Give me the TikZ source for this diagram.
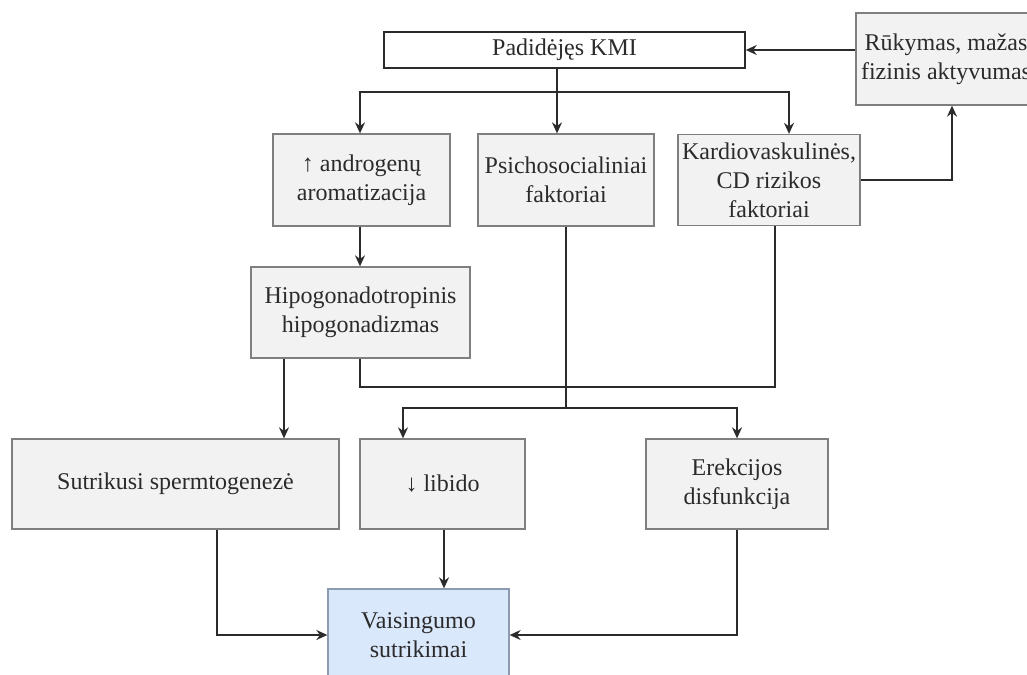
\documentclass[tikz,border=0pt]{standalone}
\usepackage{fontspec}
\setmainfont{Liberation Serif}
\usetikzlibrary{arrows.meta}
\definecolor{boxgray}{HTML}{F2F2F2}
\definecolor{edgegray}{HTML}{7F7F7F}
\definecolor{paleblue}{HTML}{DAE8FC}
\definecolor{blueedge}{HTML}{8C9BB0}
\definecolor{ink}{HTML}{2B2B2B}

\begin{document}
\begin{tikzpicture}[x=1pt,y=-1pt,
  every node/.style={font=\fontsize{24}{29}\selectfont,text=ink,align=center,inner sep=0pt},
  box/.style={draw=edgegray,fill=boxgray,line width=1.3pt},
  conn/.style={draw=ink,line width=1.5pt},
  arr/.style={conn,-{Stealth[length=11pt,width=10pt]}}]
\useasboundingbox (0,0) rectangle (1027,674);
\clip (0,0) rectangle (1027,674);

\node [draw=ink,fill=white,line width=1.5pt,minimum width=361pt,minimum height=36pt] (kmi) at (564.5,50) {Padidėjęs KMI};
\node [box,minimum width=180pt,minimum height=92pt] (ruk) at (946,59) {Rūkymas, mažas\\fizinis aktyvumas};
\node [box,minimum width=177pt,minimum height=92pt] (andr) at (361.5,180) {↑ androgenų\\aromatizacija};
\node [box,minimum width=176pt,minimum height=92pt] (psy) at (566,180) {Psichosocialiniai\\faktoriai};
\node [box,minimum width=182pt,minimum height=91pt] (kar) at (769,180) {Kardiovaskulinės,\\CD rizikos\\faktoriai};
\node [box,minimum width=219pt,minimum height=91pt] (hipo) at (360.5,312.5) {Hipogonadotropinis\\hipogonadizmas};
\node [box,minimum width=327pt,minimum height=90pt] (spe) at (175.5,484) {Sutrikusi spermtogenezė};
\node [box,minimum width=165pt,minimum height=90pt] (lib) at (442.5,484) {↓ libido};
\node [box,minimum width=182pt,minimum height=90pt] (ere) at (737,484) {Erekcijos\\disfunkcija};
\node [draw=blueedge,fill=paleblue,line width=1.3pt,minimum width=181pt,minimum height=92pt] (vai) at (418.5,635) {Vaisingumo\\sutrikimai};

\coordinate (split) at (557,92);
\coordinate (mid) at (775,387);
\coordinate (fork) at (566,408);

\draw [conn] (split |- kmi.south) -- (split);
\draw [arr] (split) -| ([xshift=-1.5pt]andr.north);
\draw [arr] (split) -- (split |- psy.north);
\draw [arr] (split) -| ([xshift=20pt]kar.north);
\draw [arr] (ruk.west |- kmi) -- (kmi.east);
\draw [arr] (kar.east) -| ([xshift=6pt]ruk.south);
\draw [arr] ([xshift=-1.5pt]andr.south) -- ([xshift=-0.5pt]hipo.north);
\draw [arr] ([xshift=-76.5pt]hipo.south) -- ([xshift=-76.5pt]hipo.south |- spe.north);
\draw [conn] ([xshift=-0.5pt]hipo.south) |- (mid) -- (mid |- kar.south);
\draw [conn] (psy.south) -- (fork);
\draw [arr] (fork) -| ([xshift=-39.5pt]lib.north);
\draw [arr] (fork) -| (ere.north);
\draw [arr] ([xshift=41.5pt]spe.south) |- (vai.west);
\draw [arr] ([xshift=1.5pt]lib.south) -- ([xshift=1.5pt]lib.south |- vai.north);
\draw [arr] (ere.south) |- (vai.east);
\end{tikzpicture}
\end{document}
